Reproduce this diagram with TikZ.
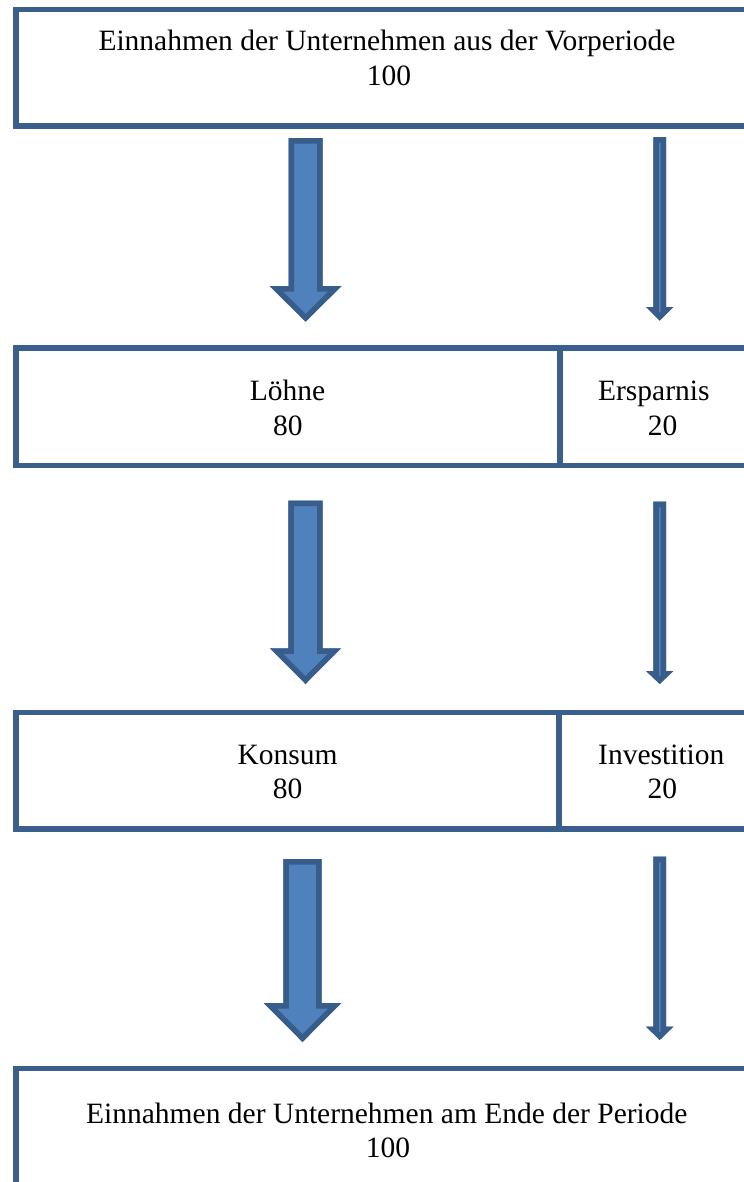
\documentclass[tikz,border=0pt]{standalone}
\usepackage{fontspec}
\setmainfont{Liberation Serif}
\definecolor{arrowfill}{HTML}{4F81BD}
\definecolor{arrowline}{HTML}{385D8A}
\definecolor{boxline}{HTML}{3A5F8C}
\newcommand\blockarrow[6]{%
  % #1 cx, #2 top, #3 head base, #4 tip, #5 shaft half width, #6 head half width
  \begin{scope}
    \fill[arrowfill] ({#1-#5},#2) -- ({#1+#5},#2) -- ({#1+#5},#3) -- ({#1+#6},#3) -- (#1,#4) -- ({#1-#6},#3) -- ({#1-#5},#3) -- cycle;
    \clip ({#1-#5},#2) -- ({#1+#5},#2) -- ({#1+#5},#3) -- ({#1+#6},#3) -- (#1,#4) -- ({#1-#6},#3) -- ({#1-#5},#3) -- cycle;
    \draw[arrowline, line width=11bp, line join=miter] ({#1-#5},#2) -- ({#1+#5},#2) -- ({#1+#5},#3) -- ({#1+#6},#3) -- (#1,#4) -- ({#1-#6},#3) -- ({#1-#5},#3) -- cycle;
  \end{scope}}
\tikzset{
  box/.style={draw=boxline, line width=5.5bp, rectangle, inner sep=0pt, outer sep=0pt, anchor=north west},
  label/.style={inner sep=0pt, anchor=base, font=\fontsize{29.5bp}{35bp}\selectfont, text=black}
}
\begin{document}
\begin{tikzpicture}[x=1bp, y=-1bp]
\useasboundingbox (0,0) rectangle (744,1182);
\fill[white] (0,0) rectangle (744,1182);
\clip (0,0) rectangle (744,1182);

% boxes
\node[box, minimum width=784bp, minimum height=116.5bp] (top) at (16,9.5) {};
\node[box, minimum width=544bp, minimum height=117.5bp] (loehne) at (16,348) {};
\node[box, minimum width=240bp, minimum height=117.5bp] (ersparnis) at (560,348) {};
\node[box, minimum width=543bp, minimum height=116.5bp] (konsum) at (16,712.5) {};
\node[box, minimum width=241bp, minimum height=116.5bp] (investition) at (559,712.5) {};
\node[box, minimum width=784bp, minimum height=200bp] (bottom) at (16,1068.5) {};

% texts
\node[label] (topA) at (387,50) {Einnahmen der Unternehmen aus der Vorperiode};
\node[label] (topB) at (389,85) {100};
\node[label] (loehneA) at (287.5,400.7) {Löhne};
\node[label] (loehneB) at (287.8,435) {80};
\node[label] (ersparnisA) at (653.8,400.7) {Ersparnis};
\node[label] (ersparnisB) at (662.5,435) {20};
\node[label] (konsumA) at (287.6,764.5) {Konsum};
\node[label] (konsumB) at (287.5,798.5) {80};
\node[label] (investitionA) at (661.3,764.5) {Investition};
\node[label] (investitionB) at (662.3,798.5) {20};
\node[label] (bottomA) at (386.8,1123) {Einnahmen der Unternehmen am Ende der Periode};
\node[label] (bottomB) at (388,1157) {100};

% block arrows
\blockarrow{305.6}{138}{286}{321.7}{17.1}{36}
\blockarrow{659.7}{137}{307}{320.7}{6.35}{13.65}
\blockarrow{305.5}{500.7}{648.3}{684}{17.2}{35.5}
\blockarrow{659.7}{501.7}{671}{684}{6.35}{13.65}
\blockarrow{302.5}{859}{1003}{1042}{19.2}{38.9}
\blockarrow{659.7}{856.7}{1026.7}{1040}{6.35}{13.65}
\end{tikzpicture}
\end{document}
